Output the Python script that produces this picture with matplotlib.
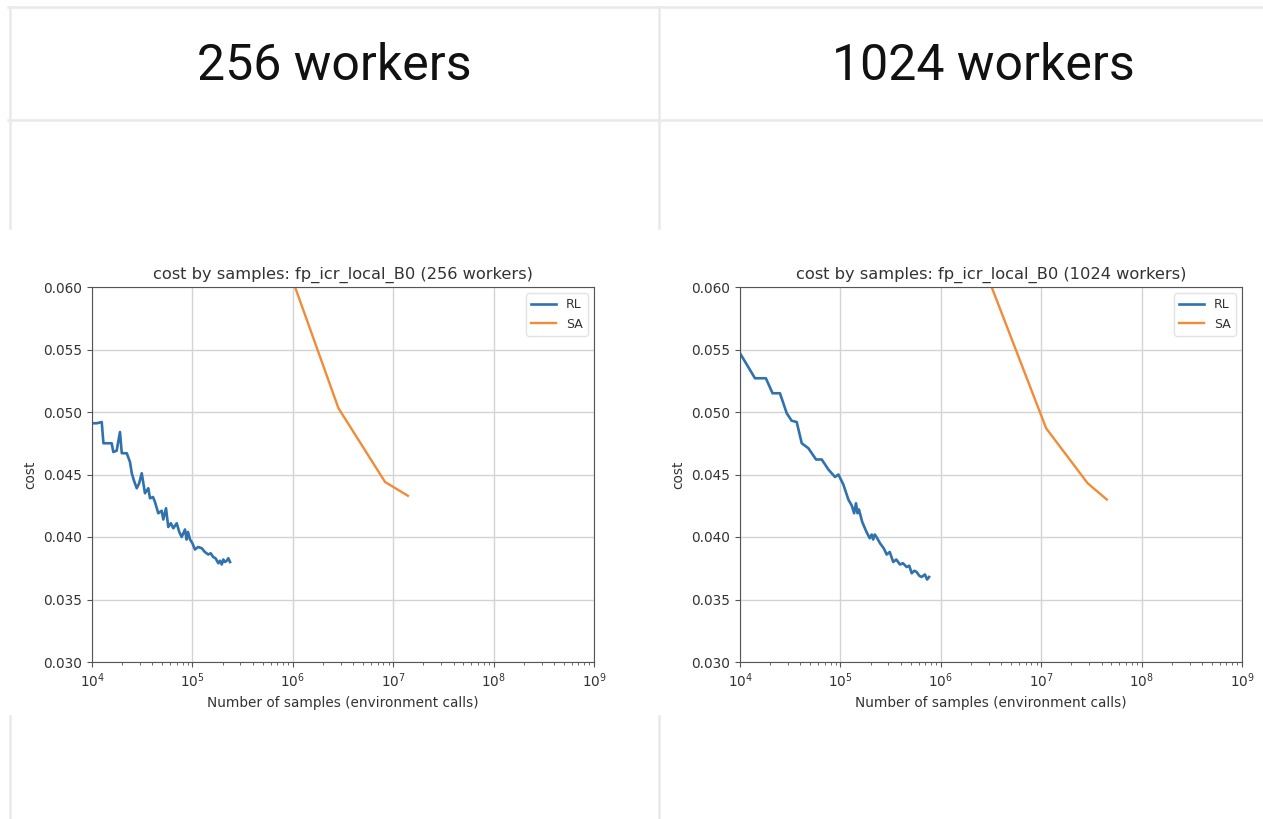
import matplotlib
matplotlib.use("Agg")
import matplotlib.pyplot as plt
from matplotlib.lines import Line2D

W, H = 1263, 819

# column headings
headers = ["256 workers", "1024 workers"]
worker_counts = [256, 1024]

# RL, 256 workers
rl_256_samples = [1.0e4, 1.12e4, 1.25e4, 1.30e4, 1.57e4, 1.63e4, 1.76e4, 1.90e4, 1.98e4,
                  2.22e4, 2.39e4, 2.49e4, 2.62e4, 2.79e4, 2.95e4, 3.13e4, 3.37e4, 3.64e4,
                  3.78e4, 4.05e4, 4.24e4, 4.57e4, 4.94e4, 5.13e4, 5.46e4, 5.75e4, 6.10e4,
                  6.46e4, 6.98e4, 7.40e4, 7.82e4, 8.44e4, 8.75e4, 9.04e4, 9.47e4, 1.00e5,
                  1.06e5, 1.14e5, 1.24e5, 1.33e5, 1.44e5, 1.52e5, 1.61e5, 1.70e5, 1.81e5,
                  1.88e5, 1.96e5, 2.03e5, 2.11e5, 2.20e5, 2.28e5, 2.37e5]
rl_256_cost = [0.0491, 0.0491, 0.0492, 0.0475, 0.0475, 0.0468, 0.0469, 0.0484, 0.0467,
               0.0467, 0.0460, 0.0451, 0.0445, 0.0439, 0.0443, 0.0451, 0.0435, 0.0439,
               0.0431, 0.0432, 0.0428, 0.0419, 0.0421, 0.0414, 0.0423, 0.0408, 0.0411,
               0.0407, 0.0411, 0.0404, 0.0400, 0.0406, 0.0398, 0.0404, 0.0398, 0.0395,
               0.0390, 0.0392, 0.0391, 0.0388, 0.0386, 0.0387, 0.0384, 0.0383, 0.0379,
               0.0381, 0.0378, 0.0382, 0.0380, 0.0381, 0.0383, 0.0380]

# SA, 256 workers
sa_256_samples = [1.0e6, 2.85e6, 8.3e6, 1.4e7]
sa_256_cost = [0.0605, 0.0503, 0.0444, 0.0433]

# RL, 1024 workers
rl_1024_samples = [1.0e4, 1.41e4, 1.81e4, 2.11e4, 2.50e4, 2.92e4, 3.27e4, 3.67e4, 4.12e4,
                   4.80e4, 5.72e4, 6.52e4, 7.59e4, 8.84e4, 9.55e4, 1.07e5, 1.20e5, 1.30e5,
                   1.37e5, 1.43e5, 1.48e5, 1.53e5, 1.65e5, 1.82e5, 1.96e5, 2.05e5, 2.12e5,
                   2.20e5, 2.29e5, 2.48e5, 2.70e5, 2.89e5, 3.10e5, 3.36e5, 3.60e5, 3.92e5,
                   4.20e5, 4.57e5, 4.85e5, 5.13e5, 5.45e5, 5.75e5, 6.10e5, 6.44e5, 6.95e5,
                   7.30e5, 7.64e5]
rl_1024_cost = [0.0547, 0.0527, 0.0527, 0.0515, 0.0515, 0.0499, 0.0493, 0.0492, 0.0475,
                0.0471, 0.0462, 0.0462, 0.0454, 0.0448, 0.0450, 0.0442, 0.0430, 0.0425,
                0.0419, 0.0427, 0.0419, 0.0422, 0.0412, 0.0404, 0.0399, 0.0402, 0.0398,
                0.0402, 0.0400, 0.0395, 0.0391, 0.0386, 0.0388, 0.0380, 0.0382, 0.0378,
                0.0379, 0.0376, 0.0377, 0.0371, 0.0373, 0.0372, 0.0369, 0.0368, 0.0370,
                0.0366, 0.0368]

# SA, 1024 workers
sa_1024_samples = [3.0e6, 1.12e7, 2.9e7, 4.5e7]
sa_1024_cost = [0.0606, 0.0487, 0.0443, 0.0430]

y_ticks = [0.030, 0.035, 0.040, 0.045, 0.050, 0.055, 0.060]

fig = plt.figure(figsize=(W / 100, H / 100), dpi=100)
fig.patch.set_facecolor("white")

# table borders around the two cells
border = "#e9e9e9"
def hline(y, x0, x1):
    fig.lines.append(Line2D([x0 / W, x1 / W], [1 - y / H, 1 - y / H],
                            transform=fig.transFigure, color=border, lw=1.8))
def vline(x, y0, y1):
    fig.lines.append(Line2D([x / W, x / W], [1 - y0 / H, 1 - y1 / H],
                            transform=fig.transFigure, color=border, lw=1.8))

hline(7, 8, W)
hline(120, 8, W)
vline(10, 7, 228)
vline(10, 716, H)
vline(659, 7, 228)
vline(659, 716, H)

# heading text
for name, cx in zip(headers, [334, 983]):
    fig.text(cx / W, 1 - 66 / H, name, ha="center", va="center",
             family="Roboto", fontsize=36, color="#111111")

txt = "#333333"
panels = [
    (92, rl_256_samples, rl_256_cost, sa_256_samples, sa_256_cost, worker_counts[0]),
    (740, rl_1024_samples, rl_1024_cost, sa_1024_samples, sa_1024_cost, worker_counts[1]),
]
for left, rx, ry, sx, sy, n in panels:
    ax = fig.add_axes([left / W, 1 - 662 / H, 502 / W, 375 / H])
    ax.plot(rx, ry, color="#2f72ad", lw=1.9, label="RL")
    ax.plot(sx, sy, color="#f28b35", lw=1.7, label="SA")
    ax.set_xscale("log")
    ax.set_xlim(1e4, 1e9)
    ax.set_ylim(0.030, 0.060)
    ax.set_yticks(y_ticks)
    ax.set_yticklabels([f"{v:.3f}" for v in y_ticks])
    ax.grid(True, color="#d3d3d3", lw=1)
    ax.set_axisbelow(True)
    for s in ax.spines.values():
        s.set_color("#555555")
    ax.tick_params(colors="#555555", labelcolor=txt, labelsize=9.8)
    ax.tick_params(which="minor", colors="#555555")
    ax.set_title(f"cost by samples: fp_icr_local_B0 ({n} workers)", fontsize=11.7, color=txt)
    ax.set_xlabel("Number of samples (environment calls)", fontsize=9.8, color=txt)
    ax.set_ylabel("cost", fontsize=9.8, color=txt)
    leg = ax.legend(loc="upper right", fontsize=9, labelcolor=txt)
    leg.get_frame().set_edgecolor("#dddddd")

fig.savefig("out.png", dpi=100, facecolor="white")
